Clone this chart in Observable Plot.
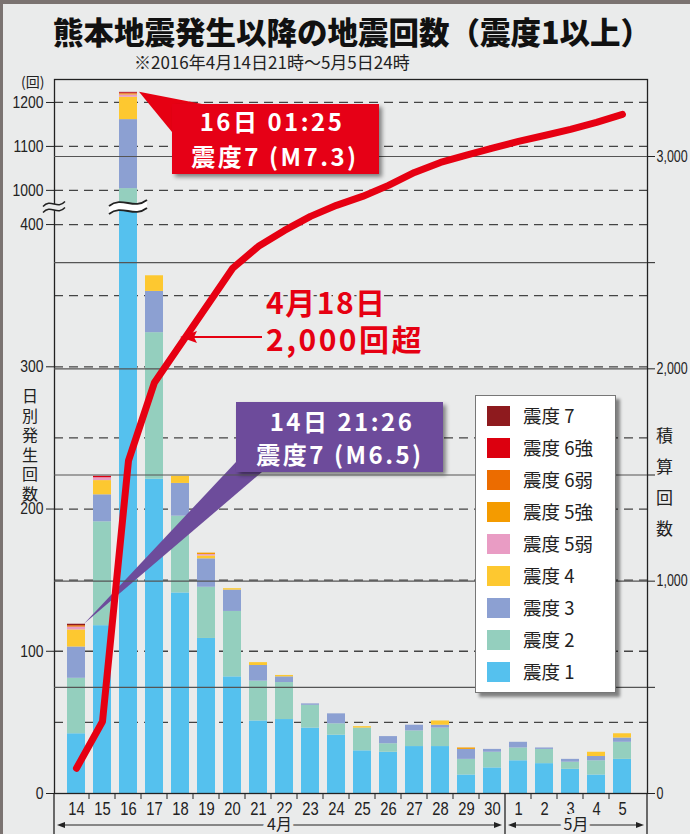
<!DOCTYPE html>
<html><head><meta charset="utf-8">
<script src="https://cdn.jsdelivr.net/npm/d3@7"></script>
<script src="https://cdn.jsdelivr.net/npm/@observablehq/plot@0.6"></script>
<style>
body{margin:0;background:#eaebeb;}
#wrap{position:relative;width:690px;height:834px;overflow:hidden;background:#eaebeb;}
#wrap svg{position:absolute;left:0;top:0;overflow:visible;}
.abs{position:absolute;white-space:nowrap;}
#legend{position:absolute;left:475px;top:395px;width:141px;height:298px;background:#fff;border:1px solid #777;box-sizing:border-box;box-shadow:4px 4px 3px rgba(0,0,0,0.45);font-family:'Noto Sans CJK JP','Noto Sans',sans-serif;}
#legend .row{position:absolute;left:11px;height:20px;width:125px;white-space:nowrap;}
#legend .sw{position:absolute;left:0;top:0;width:23px;height:20px;}
#legend .lb{position:absolute;left:36px;top:-4px;font-size:18.5px;line-height:26px;color:#222;white-space:nowrap;}
</style></head><body>
<div id="wrap"></div>
<script>
// ---- data ----
const days = ["14","15","16","17","18","19","20","21","22","23","24","25","26","27","28","29","30","1","2","3","4","5"];
const levelNames = ["震度 1","震度 2","震度 3","震度 4","震度 5弱","震度 5強","震度 6弱","震度 6強","震度 7"];
const levelColors = ["#55c1ee","#94cfbe","#8ca0d2","#fdc830","#e99cc4","#f49b00","#ec6c00","#dc000f","#8e1a1e"];
const shindo1  = [42,118,700,221,141,109,82,51,52,46,41,30,29,33,33,13,18,23,21,17,13,24];
const shindo2  = [39,73,304,103,54,36,46,28,26,16,8,16,6,11,13,11,11,9,10,5,10,12];
const shindo3  = [22,19,157,29,23,20,15,11,4,1,7,0,5,4,2,7,2,4,1,2,3,3];
const shindo4  = [12,10,51,11,5,2,1,2,1,0,0,1,0,0,3,0,0,0,0,0,3,3];
const shindo5w = [2,2,5,0,0,1,0,0,0,0,0,0,0,0,0,0,0,0,0,0,0,0];
const shindo5s = [0,0,2,0,0,1,0,0,0,0,0,0,0,0,0,1,0,0,0,0,0,0];
const shindo6w = [1,0,1,0,0,0,0,0,0,0,0,0,0,0,0,0,0,0,0,0,0,0];
const shindo6s = [0,1,2,0,0,0,0,0,0,0,0,0,0,0,0,0,0,0,0,0,0,0];
const shindo7  = [1,0,1,0,0,0,0,0,0,0,0,0,0,0,0,0,0,0,0,0,0,0];
const cumulative = [119,339,1568,1936,2115,2294,2473,2577,2652,2718,2770,2812,2864,2925,2972,3006,3039,3071,3099,3128,3161,3198];
const leftTicks = [0,100,200,300,400,1000,1100,1200];
const leftDashed = [50,100,150,200,250,300,350,400,1000,1100,1200];
const rightTicks = [0,500,1000,1500,2000,2500,3000];
const months = [{label:"4月", from:"14", to:"30"},{label:"5月", from:"1", to:"5"}];

const series = [shindo1,shindo2,shindo3,shindo4,shindo5w,shindo5s,shindo6w,shindo6s,shindo7];
const rows = [];
levelNames.forEach((lv,j)=>days.forEach((d,i)=>rows.push({day:d, level:lv, count:series[j][i]})));
const totals = days.map((d,i)=>d3.sum(series, s=>s[i]));
const lineData = days.map((d,i)=>({day:d, cum:cumulative[i]}));

const W=690,H=834,mL=54,mR=43,mT=79,mB=41;
const narrow = "'Liberation Sans',Arial,sans-serif";
const jp = "'Noto Sans CJK JP','Noto Sans',sans-serif";
const BG = "#eaebeb";
const xOpts = {type:"band", domain:days, range:[56,641], paddingInner:0.32, paddingOuter:0.16, align:0.5, axis:null};

const wrap = document.getElementById("wrap");

// horizontally condense axis tick labels (narrow numerals as in the original)
function squeeze(svg, k){
  d3.select(svg).selectAll('g[aria-label$="tick label"] text').each(function(){
    const tr=this.getAttribute("transform")||"";
    if (tr.includes("translate")) {
      this.setAttribute("transform", `${tr} scale(${k},1)`);
    } else {
      const x=parseFloat(this.getAttribute("x")||"0")||0;
      this.setAttribute("x",0);
      this.setAttribute("transform", `translate(${x},0) scale(${k},1)`);
    }
  });
}

// ---- chart 1 : daily bars, broken left axis ----
const p1 = Plot.plot({
  width:W, height:H, marginLeft:mL, marginRight:mR, marginTop:mT, marginBottom:mB,
  style:{background:"transparent", fontFamily:narrow, fontSize:"16px", color:"#222"},
  x:xOpts,
  y:{type:"linear", domain:[0,412,961,1250], range:[793,207,207,80], axis:null},
  color:{domain:levelNames, range:levelColors},
  marks:[
    Plot.ruleY(leftDashed, {stroke:"#444", strokeWidth:1.3, strokeDasharray:"9,6"}),
    Plot.barY(rows, {x:"day", y:"count", fill:"level", order:levelNames}),
    Plot.axisY({anchor:"left", ticks:leftTicks, tickSize:8, tickPadding:3, fontSize:17, label:null, tickFormat:d=>String(d)}),
    Plot.axisX({anchor:"bottom", tickSize:0, tickPadding:9, fontSize:18, label:null}),
    Plot.frame({stroke:"#222", strokeWidth:1.3})
  ]
});
wrap.appendChild(p1);
squeeze(p1, 0.82);
const sx = p1.scale("x"), sy = p1.scale("y");
const bw = sx.bandwidth, st = sx.step;
const X = d => sx.apply(d);
const g1 = d3.select(p1);
const defs = g1.append("defs");
defs.append("filter").attr("id","sh").attr("x","-20%").attr("y","-20%").attr("width","150%").attr("height","150%")
  .append("feDropShadow").attr("dx",3).attr("dy",3).attr("stdDeviation",2).attr("flood-color","#000").attr("flood-opacity",0.45);

function tilde(x0,w,y,a){return `M${x0},${y+a}C${x0+w*0.35},${y-2.4*a} ${x0+w*0.65},${y+2.4*a} ${x0+w},${y-a}`;}
function band(x0,w,yU,yL,a){
  return `M${x0},${yU+a}C${x0+w*0.35},${yU-2.4*a} ${x0+w*0.65},${yU+2.4*a} ${x0+w},${yU-a}`+
         `L${x0+w},${yL-a}C${x0+w*0.65},${yL+2.4*a} ${x0+w*0.35},${yL-2.4*a} ${x0},${yL+a}Z`;
}
// break on bar 16
{
  const cx = X("16")+bw/2, cy = sy.apply(shindo1[2]);
  const w=38, x0=cx-w/2;
  g1.append("path").attr("d",band(x0,w,cy-4,cy+4,3)).attr("fill","#fff");
  g1.append("path").attr("d",tilde(x0,w,cy-4,3)).attr("fill","none").attr("stroke","#222").attr("stroke-width",1.8);
  g1.append("path").attr("d",tilde(x0,w,cy+4,3)).attr("fill","none").attr("stroke","#222").attr("stroke-width",1.8);
  const ax=mL-11, aw=22;
  g1.append("path").attr("d",band(ax,aw,cy-3,cy+3,2.5)).attr("fill",BG);
  g1.append("path").attr("d",tilde(ax,aw,cy-3,2.5)).attr("fill","none").attr("stroke","#222").attr("stroke-width",1.5);
  g1.append("path").attr("d",tilde(ax,aw,cy+3,2.5)).attr("fill","none").attr("stroke","#222").attr("stroke-width",1.5);
}
// boundary ticks & month separators
const y0 = H-mB;
for(let i=0;i<days.length-1;i++){
  const bx = X(days[i+1]) - (st-bw)/2;
  const isSep = days[i]==="30";
  g1.append("line").attr("x1",bx).attr("x2",bx).attr("y1",y0).attr("y2",isSep?H:y0+6).attr("stroke","#222").attr("stroke-width",isSep?1.3:1);
}
g1.append("line").attr("x1",mL).attr("x2",mL).attr("y1",y0).attr("y2",H).attr("stroke","#222").attr("stroke-width",1.3);
g1.append("line").attr("x1",W-mR).attr("x2",W-mR).attr("y1",y0).attr("y2",H).attr("stroke","#222").attr("stroke-width",1.3);
months.forEach(m=>{
  const i0 = days.indexOf(m.from), i1 = days.indexOf(m.to);
  const left = i0===0 ? mL+3 : X(m.from)-(st-bw)/2+3;
  const right = i1===days.length-1 ? W-mR-3 : X(days[i1+1])-(st-bw)/2-3;
  const yy = 825;
  g1.append("line").attr("x1",left+6).attr("x2",right-6).attr("y1",yy).attr("y2",yy).attr("stroke","#222").attr("stroke-width",1);
  g1.append("path").attr("d",`M${left},${yy}L${left+8},${yy-3}L${left+8},${yy+3}Z`).attr("fill","#222");
  g1.append("path").attr("d",`M${right},${yy}L${right-8},${yy-3}L${right-8},${yy+3}Z`).attr("fill","#222");
  g1.append("text").attr("x",(left+right)/2).attr("y",yy+5).attr("text-anchor","middle")
    .attr("font-family",jp).attr("font-size",16).attr("fill","#222")
    .attr("stroke",BG).attr("stroke-width",8).attr("paint-order","stroke").text(m.label);
});
// purple callout (14日)
{
  const tipX = X("14")+bw-1, tipY = sy.apply(totals[0]);
  const g = g1.append("g");
  g.append("path").attr("d",`M${tipX},${tipY}L236,462L262,472Z`).attr("fill","#6d4c9b");
  g.append("rect").attr("x",236).attr("y",402).attr("width",207).attr("height",70).attr("fill","#6d4c9b").attr("filter","url(#sh)");
  const t = g.append("g").attr("font-family",jp).attr("font-weight",700).attr("font-size",24).attr("letter-spacing","2.5px").attr("fill","#fff").attr("text-anchor","middle");
  t.append("text").attr("x",342).attr("y",431).text("14日 21:26");
  t.append("text").attr("x",340).attr("y",464).text("震度7 (M6.5)");
}

// ---- chart 2 : cumulative line, right axis ----
const p2 = Plot.plot({
  width:W, height:H, marginLeft:mL, marginRight:mR, marginTop:mT, marginBottom:mB,
  style:{background:"transparent", fontFamily:narrow, fontSize:"15px", color:"#222", pointerEvents:"none"},
  x:xOpts,
  y:{type:"linear", domain:[0,3000], range:[793,156], axis:null},
  marks:[
    Plot.ruleY(rightTicks.filter(d=>d>0), {stroke:"#555", strokeWidth:1.2}),
    Plot.axisY({anchor:"right", ticks:rightTicks, tickSize:7, tickPadding:2, fontSize:16, label:null,
      tickFormat:d=> d%1000===0 ? d3.format(",")(d) : ""}),
    Plot.line(lineData, {x:"day", y:"cum", stroke:"#e60012", strokeWidth:7, strokeLinecap:"round", strokeLinejoin:"round"})
  ]
});
wrap.appendChild(p2);
squeeze(p2, 0.78);
const g2 = d3.select(p2);
g2.append("defs").append("filter").attr("id","sh2").attr("x","-20%").attr("y","-20%").attr("width","150%").attr("height","150%")
  .append("feDropShadow").attr("dx",3).attr("dy",3).attr("stdDeviation",2).attr("flood-color","#000").attr("flood-opacity",0.45);
// red callout (16日)
{
  const tipX = X("16")+bw+2, tipY = sy.apply(totals[2]);
  const g = g2.append("g");
  g.append("path").attr("d",`M${tipX},${tipY}L202,104L172,132Z`).attr("fill","#e60012");
  g.append("rect").attr("x",172).attr("y",104).attr("width",207).attr("height",70).attr("fill","#e60012").attr("filter","url(#sh2)");
  const t = g.append("g").attr("font-family",jp).attr("font-weight",700).attr("font-size",24).attr("letter-spacing","2.5px").attr("fill","#fff").attr("text-anchor","middle");
  t.append("text").attr("x",272).attr("y",131).text("16日 01:25");
  t.append("text").attr("x",275).attr("y",166).text("震度7 (M7.3)");
}
// 4月18日 annotation
{
  const g = g2.append("g").attr("font-family",jp).attr("font-weight",700).attr("font-size",30).attr("letter-spacing","1.5px").attr("fill","#e60012")
    .attr("text-anchor","start").attr("stroke",BG).attr("stroke-width",6).attr("paint-order","stroke");
  g.append("text").attr("x",266).attr("y",314).text("4月18日");
  g.append("text").attr("x",266).attr("y",351).attr("letter-spacing","2.5px").text("2,000回超");
  g2.append("line").attr("x1",262).attr("x2",192).attr("y1",337).attr("y2",337).attr("stroke","#e60012").attr("stroke-width",2.2);
  g2.append("path").attr("d","M180,337L197,331L194,337L197,343Z").attr("fill","#e60012");
}

// ---- HTML text ----
function addDiv(html, css){const d=document.createElement("div");d.className="abs";d.style.cssText=css+";font-family:"+jp;d.innerHTML=html;wrap.appendChild(d);return d;}
addDiv("","left:0;top:0;width:690px;height:4px;background:#7b7371");
addDiv("","left:0;top:0;width:3px;height:834px;background:#7b7371");
addDiv("熊本地震発生以降の地震回数（震度1以上）","left:9px;top:13px;width:686px;text-align:center;font-size:30.5px;font-weight:900;line-height:36px;color:#111");
addDiv("※2016年4月14日21時～5月5日24時","left:134px;top:51px;font-size:17px;line-height:22px;color:#222");
addDiv("(回)","left:21px;top:72px;font-size:14px;line-height:18px;color:#222");
addDiv("日別発生回数","left:21px;top:388px;font-size:16px;writing-mode:vertical-rl;letter-spacing:3.5px;color:#222;line-height:18px");
addDiv("積算回数","left:655px;top:427px;font-size:17px;writing-mode:vertical-rl;letter-spacing:14px;color:#222;line-height:18px");

// legend
const lg = document.createElement("div"); lg.id="legend"; wrap.appendChild(lg);
levelNames.slice().reverse().forEach((lv,k)=>{
  const r=document.createElement("div"); r.className="row"; r.style.top=(10+k*32)+"px";
  const c = levelColors[levelNames.indexOf(lv)];
  r.innerHTML=`<div class="sw" style="background:${c}"></div><div class="lb">${lv}</div>`;
  lg.appendChild(r);
});
</script>
</body></html>
